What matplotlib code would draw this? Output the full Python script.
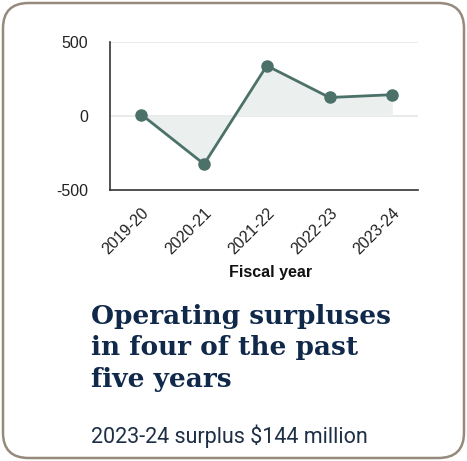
import matplotlib.pyplot as plt
import matplotlib.patches as mpatches
import matplotlib as mpl

mpl.rcParams['font.family'] = ['Liberation Sans', 'DejaVu Sans']

years = ['2019-20', '2020-21', '2021-22', '2022-23', '2023-24']
surplus = [10, -325, 340, 125, 144]
yticks = [-500, 0, 500]
yticklabels = ['-500', '0', '500']

line_color = '#4b7169'
fill_color = '#ebefed'
navy = '#10294a'

W, H = 467, 461
fig = plt.figure(figsize=(W / 100, H / 100), dpi=100)

# card border
card = mpatches.FancyBboxPatch((3 / W, 3 / H), (W - 6) / W, (H - 6) / H,
                               boxstyle='round,pad=0,rounding_size=0.055',
                               transform=fig.transFigure, facecolor='white',
                               edgecolor='#958a7b', linewidth=1.8, zorder=-5)
fig.patches.append(card)

ax = fig.add_axes([110 / W, 1 - 190 / H, (418 - 110) / W, (190 - 42) / H])
ax.set_zorder(2)
ax.set_facecolor('none')
x = list(range(len(years)))
ax.fill_between(x, surplus, 0, color=fill_color, linewidth=0, zorder=1)
ax.plot(x, surplus, color=line_color, linewidth=2, marker='o', markersize=8, zorder=3)

ax.set_xlim(-0.5, 4.41)
ax.set_ylim(-500, 500)
ax.set_yticks(yticks)
ax.set_yticklabels(yticklabels)
ax.set_xticks(x)
ax.set_xticklabels(years, rotation=45, ha='right', rotation_mode='anchor')
ax.tick_params(axis='both', length=0, labelsize=11.5, colors='#222222')
ax.tick_params(axis='y', pad=16)
ax.tick_params(axis='x', pad=11)
for val in [0, 500]:
    ax.axhline(val, color='#e6e6e6', linewidth=1.2, zorder=0)
for side in ['top', 'right']:
    ax.spines[side].set_visible(False)
for side in ['left', 'bottom']:
    ax.spines[side].set_color('#333333')
    ax.spines[side].set_linewidth(1.2)
ax.set_xlabel('Fiscal year', fontsize=11.5, fontweight='bold', color='#111111', labelpad=6)
ax.xaxis.label.set_x(0.52)

fig.text(91 / W, 1 - 304 / H, 'Operating surpluses\nin four of the past\nfive years',
         fontsize=19, fontweight='bold', family='DejaVu Serif', color=navy,
         va='top', ha='left', linespacing=1.32)
fig.text(91 / W, 1 - 436 / H, '2023-24 surplus $144 million', fontsize=15.5,
         family='Roboto', color='#1e2f45', va='center', ha='left')

fig.savefig('out.png', dpi=100)
